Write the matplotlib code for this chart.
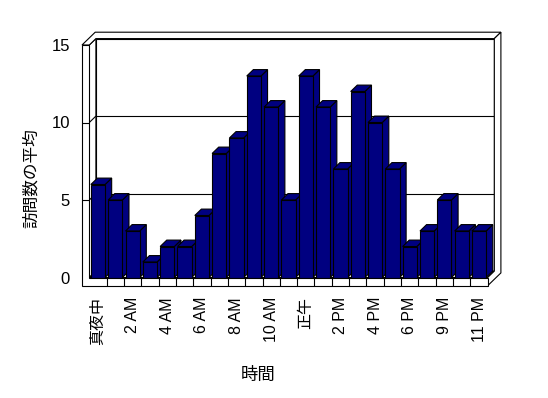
import matplotlib
matplotlib.use("Agg")
import matplotlib.pyplot as plt
import numpy as np
from matplotlib.patches import Polygon

plt.rcParams['font.family'] = ['Liberation Sans', 'Noto Sans CJK JP', 'DejaVu Sans']

categories = ["真夜中", "1 AM", "2 AM", "3 AM", "4 AM", "5 AM", "6 AM", "7 AM", "8 AM",
              "9 AM", "10 AM", "11 AM", "正午", "1 PM", "2 PM", "3 PM", "4 PM", "5 PM",
              "6 PM", "7 PM", "9 PM", "10 PM", "11 PM"]
values = [6, 5, 3, 1, 2, 2, 4, 8, 9, 13, 11, 5, 13, 11, 7, 12, 10, 7, 2, 3, 5, 3, 3]
yticks = [0, 5, 10, 15]
ylabel = "訪問数の平均"
xlabel = "時間"

W, H = 548, 398
fig = plt.figure(figsize=(W / 100, H / 100), dpi=100)
ax = fig.add_axes([89.3 / W, (H - 277.5) / H, 398.4 / W, 232.5 / H])
n = len(values)
ax.set_xlim(-0.5, n - 0.5)
ax.set_ylim(0, 15)
for s in ax.spines.values():
    s.set_visible(False)

DX, DY = 6.6, 6.4      # depth offset in pixels (right, up)
WALL = 7.3             # left wall thickness px
FLOOR = 8.2            # floor thickness px
NAVY = "#000080"
LW = 0.8

fwd = ax.transData
inv = ax.transData.inverted()


def P(x, v, k=0.0, ex=0.0, ey=0.0):
    d = fwd.transform((x, v))
    return tuple(inv.transform((d[0] + k * DX + ex, d[1] + k * DY + ey)))


def poly(pts, fc="white", z=1, ec="black"):
    ax.add_patch(Polygon(pts, closed=True, facecolor=fc, edgecolor=ec,
                         linewidth=LW, zorder=z, clip_on=False))


def line(p, q, z=2):
    ax.plot([p[0], q[0]], [p[1], q[1]], color="black", lw=LW, zorder=z,
            clip_on=False, solid_capstyle="butt")


L, R = -0.5, n - 0.5
ymax = yticks[-1]

# back wall face (depth 1)
poly([P(L, 0, 1), P(R, 0, 1), P(R, ymax, 1), P(L, ymax, 1)], z=1)
# left wall inner face
poly([P(L, 0, 0), P(L, ymax, 0), P(L, ymax, 1), P(L, 0, 1)], z=1)
# floor top face
poly([P(L, 0, 0), P(R, 0, 0), P(R, 0, 1), P(L, 0, 1)], z=1)
# gridlines
for t in yticks[1:-1]:
    line(P(L, t, 0), P(L, t, 1), z=1.5)
    line(P(L, t, 1), P(R, t, 1), z=1.5)
# top faces of walls
poly([P(L, ymax, 0, -WALL), P(L, ymax, 0), P(L, ymax, 1), P(R, ymax, 1),
      P(R, ymax, 2), P(L, ymax, 2, -WALL)], z=1.6)
# right faces (back wall + floor)
poly([P(R, 0, 0, 0, -FLOOR), P(R, 0, 0), P(R, 0, 1), P(R, ymax, 1),
      P(R, ymax, 2), P(R, 0, 2, 0, -FLOOR)], z=1.6)

# bars
bw = 0.82
for i, v in enumerate(values):
    z = 3 + i * 0.01
    x0, x1 = i - bw / 2, i + bw / 2
    poly([P(x1, 0, 0), P(x1, v, 0), P(x1, v, 1), P(x1, 0, 1)], fc=NAVY, z=z)
    poly([P(x0, v, 0), P(x1, v, 0), P(x1, v, 1), P(x0, v, 1)], fc=NAVY, z=z)
ax.bar(range(n), values, width=bw, color=NAVY, edgecolor="black", linewidth=LW,
       zorder=3.5, clip_on=False)
# bars drawn front faces need proper overlap over neighbor side faces
for i, b in enumerate(ax.patches[-n:]):
    b.set_zorder(3 + i * 0.01 + 0.005)

# front L-shape (left wall front + floor front)
poly([P(L, ymax, 0, -WALL), P(L, ymax, 0), P(L, 0, 0), P(R, 0, 0),
      P(R, 0, 0, 0, -FLOOR), P(L, 0, 0, -WALL, -FLOOR)], z=5)
for t in yticks[1:-1]:
    line(P(L, t, 0, -WALL), P(L, t, 0), z=5.5)
for b in range(1, n):
    line(P(b - 0.5, 0, 0), P(b - 0.5, 0, 0, 0, -FLOOR), z=5.5)

# ticks / labels
ax.set_yticks(yticks)
ax.set_yticklabels([str(t) for t in yticks], fontsize=12)
ax.tick_params(axis="y", length=0, pad=13.9)
ax.set_xticks(range(0, n, 2))
ax.set_xticklabels(categories[0::2], rotation=90, fontsize=11.5, va="top", ha="center")
ax.tick_params(axis="x", length=0, pad=14)

fig.text(258 / W, 1 - 375 / H, xlabel, fontsize=12.5, ha="center", va="center")
fig.text(30.7 / W, 1 - 178.3 / H, ylabel, fontsize=12, rotation=90,
         ha="center", va="center")

fig.savefig("out.png", dpi=100)
